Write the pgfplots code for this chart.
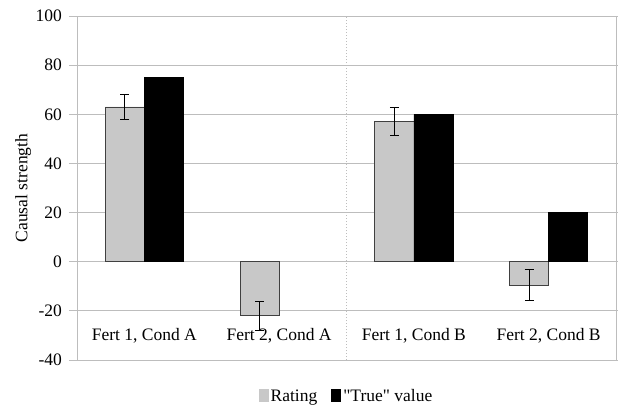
\documentclass[border=0pt]{standalone}
\usepackage{pgfplots}
\pgfplotsset{compat=1.18}
\usepackage{fontspec}
\setmainfont{Liberation Serif}[Ligatures=TeXOff]
\definecolor{bargrey}{HTML}{C8C8C8}
\definecolor{gridgrey}{HTML}{BDBDBD}
\begin{document}
\fontsize{17.5}{20}\selectfont
\begin{tikzpicture}
\useasboundingbox (0,0) rectangle (618pt,408pt);
\begin{axis}[
  at={(77pt,48pt)}, anchor=south west,
  scale only axis, width=539pt, height=344pt,
  xmin=-0.5, xmax=3.5, ymin=-40, ymax=100,
  ytick={-40,-20,0,20,40,60,80,100},
  xtick={0,1,2,3},
  xticklabels={{Fert 1, Cond A},{Fert 2, Cond A},{Fert 1, Cond B},{Fert 2, Cond B}},
  /pgf/number format/assume math mode=true,
  tick align=outside,
  major tick length=8pt,
  xtick style={draw=none},
  ytick style={gridgrey, line width=0.8pt},
  xticklabel style={yshift=46pt},
  yticklabel style={xshift=-1pt},
  ymajorgrids,
  grid style={gridgrey, line width=0.8pt},
  axis line style={gridgrey, line width=0.8pt},
  ylabel={Causal strength},
  ylabel style={at={(axis description cs:-0.1,0.5)}, anchor=center},
  bar width=0.29,
  legend style={at={(axis description cs:0.5,-0.139)}, anchor=south, yshift=-1pt, draw=none, fill=none, legend columns=2,
    /tikz/every even column/.append style={column sep=12pt}},
  legend image code/.code={\fill[#1, draw=none] (0pt,-5pt) rectangle (10pt,8pt);},
]
\addplot[gridgrey, dotted, line width=1pt, forget plot] coordinates {(1.5,-40) (1.5,100)};
\addplot[ybar, bar shift=0, fill=bargrey, draw=black!75, line width=0.7pt,
  error bars/.cd, y dir=both, y explicit,
  error bar style={black, line width=0.8pt},
  error mark options={rotate=90, mark size=4.5pt, black, line width=0.8pt}]
  coordinates {(-0.145,63) +- (0,5) (0.855,-22) +- (0,6) (1.855,57) +- (0,5.7) (2.855,-9.5) +- (0,6.3)};
\addlegendentry{Rating}
\addplot[ybar, bar shift=0, fill=black, draw=black, line width=0.7pt]
  coordinates {(0.145,75) (2.145,60) (3.145,20)};
\addlegendentry{"True" value}
\end{axis}
\end{tikzpicture}
\end{document}
